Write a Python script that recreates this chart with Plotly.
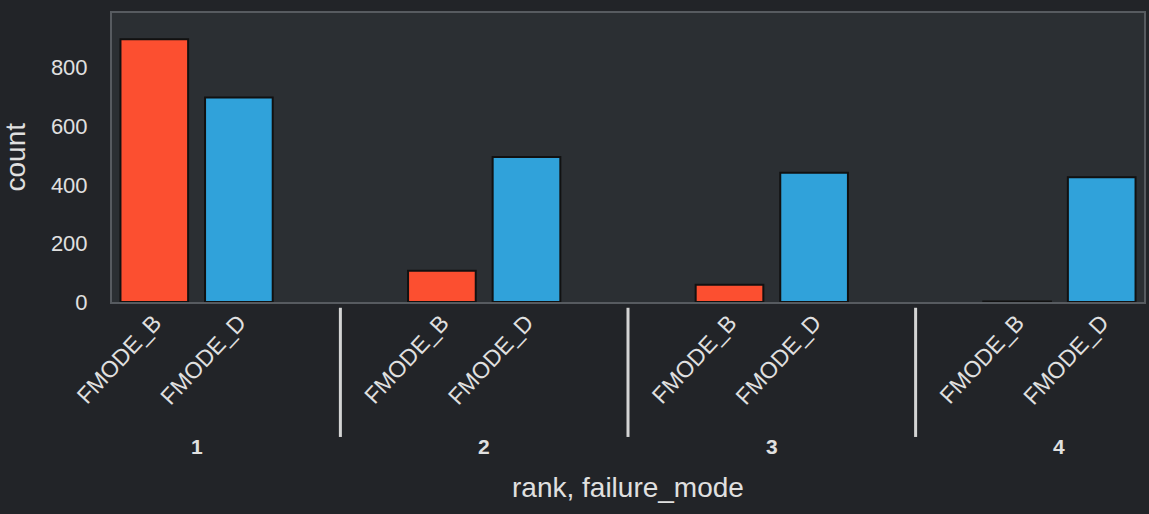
import plotly.graph_objects as go

# data
ranks = ["1", "2", "3", "4"]
failure_modes = ["FMODE_B", "FMODE_D"]
count_fmode_b = [897, 107, 59, 2]
count_fmode_d = [698, 495, 441, 426]
colors = {"FMODE_B": "#fc4f30", "FMODE_D": "#30a2da"}

# nested-factor layout: each rank group holds its failure modes, groups padded apart
group_pad = 1.4
n_modes = len(failure_modes)
group_span = n_modes + group_pad


def factor_pos(gi, fi):
    return gi * group_span + fi + 0.5


x_end = len(ranks) * n_modes + (len(ranks) - 1) * group_pad

fig = go.Figure()
for fi, (mode, vals) in enumerate(zip(failure_modes, [count_fmode_b, count_fmode_d])):
    fig.add_trace(go.Bar(
        x=[factor_pos(gi, fi) for gi in range(len(ranks))],
        y=vals,
        width=0.8,
        name=mode,
        marker=dict(color=colors[mode], line=dict(color="#111111", width=2)),
        showlegend=False,
    ))

tick_vals = [factor_pos(gi, fi) for gi in range(len(ranks)) for fi in range(n_modes)]
tick_text = [m for _ in ranks for m in failure_modes]

txt = "#e0e0e0"
font_family = "Liberation Sans, Arial, sans-serif"

fig.update_layout(
    width=1149, height=514,
    margin=dict(l=112, r=3, t=13, b=212),
    paper_bgcolor="#222428",
    plot_bgcolor="#2b2f33",
    barmode="overlay",
    font=dict(family=font_family, color=txt, size=22),
)
fig.update_xaxes(
    range=[0, x_end],
    tickvals=tick_vals, ticktext=tick_text, tickangle=-47,
    ticks="", tickfont=dict(size=23, color=txt),
    ticklabelstandoff=-4,
    showgrid=False, zeroline=False,
    showline=True, linecolor="#575b60", linewidth=2, mirror=True,
)
fig.update_yaxes(
    range=[0, max(count_fmode_b + count_fmode_d) * 1.1],
    tickvals=[0, 200, 400, 600, 800],
    ticks="outside", ticklen=18, tickcolor="rgba(0,0,0,0)",
    tickfont=dict(size=22, color=txt),
    showgrid=False, zeroline=False,
    showline=True, linecolor="#575b60", linewidth=2, mirror=True,
)

# group labels and dividers under the axis
for gi, r in enumerate(ranks):
    center = gi * group_span + n_modes / 2
    fig.add_annotation(x=center, xref="x", y=0, yref="paper", yanchor="middle",
                       yshift=-144, text="<b>" + r + "</b>", showarrow=False,
                       font=dict(size=21, color=txt))
    if gi > 0:
        div_x = gi * group_span - group_pad / 2
        fig.add_shape(type="line", xref="x", yref="paper", x0=div_x, x1=div_x,
                      y0=-0.02, y1=-0.467, line=dict(color="#d4d4d4", width=3))

# axis titles
fig.add_annotation(x=0.5, xref="paper", y=0, yref="paper", yanchor="middle",
                   yshift=-185, text="rank, failure_mode", showarrow=False,
                   font=dict(size=28, color=txt))
fig.add_annotation(x=0, xref="paper", y=0.5, yref="paper", xanchor="center",
                   xshift=-97, text="count", textangle=-90, showarrow=False,
                   font=dict(size=28, color=txt))

fig.write_html("out.html", config={"displayModeBar": False},
               post_script="document.body.style.margin='0';")
